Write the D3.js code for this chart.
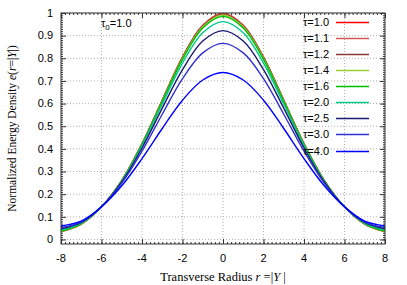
<!DOCTYPE html>
<html>
<head>
<meta charset="utf-8">
<script src="https://cdn.jsdelivr.net/npm/d3@7"></script>
<style>
body { margin: 0; background: #fff; }
text { font-family: "Liberation Sans", Arial, sans-serif; }
.serif { font-family: "Liberation Serif", "Times New Roman", serif; }
</style>
</head>
<body>
<div id="chart"></div>
<script>
// transverse radius samples
var radius = [-8, -7, -6, -5, -4, -3, -2, -1, 0, 1, 2, 3, 4, 5, 6, 7, 8];

var tauLabels = ["1.0", "1.1", "1.2", "1.4", "1.6", "2.0", "2.5", "3.0", "4.0"];
var tauColors = ["#ff0000", "#d05858", "#8b3a3a", "#9acd32", "#00c000", "#00c78c", "#191970", "#3030d0", "#0000ff"];

// normalized energy density, one row per tau
var tau10 = [0.035, 0.068, 0.144, 0.260, 0.422, 0.615, 0.805, 0.946, 0.998, 0.946, 0.805, 0.615, 0.422, 0.260, 0.144, 0.068, 0.035];
var tau11 = [0.035, 0.068, 0.144, 0.261, 0.423, 0.615, 0.805, 0.945, 0.997, 0.945, 0.805, 0.615, 0.423, 0.261, 0.144, 0.068, 0.035];
var tau12 = [0.036, 0.069, 0.144, 0.260, 0.422, 0.614, 0.803, 0.943, 0.995, 0.943, 0.803, 0.614, 0.422, 0.260, 0.144, 0.069, 0.036];
var tau14 = [0.036, 0.069, 0.144, 0.260, 0.420, 0.612, 0.800, 0.939, 0.991, 0.939, 0.800, 0.612, 0.420, 0.260, 0.144, 0.069, 0.036];
var tau16 = [0.037, 0.070, 0.144, 0.259, 0.419, 0.609, 0.795, 0.934, 0.985, 0.934, 0.795, 0.609, 0.419, 0.259, 0.144, 0.070, 0.037];
var tau20 = [0.042, 0.072, 0.144, 0.257, 0.414, 0.598, 0.779, 0.913, 0.962, 0.913, 0.779, 0.598, 0.414, 0.257, 0.144, 0.072, 0.042];
var tau25 = [0.047, 0.075, 0.144, 0.254, 0.404, 0.580, 0.750, 0.876, 0.922, 0.876, 0.750, 0.580, 0.404, 0.254, 0.144, 0.075, 0.047];
var tau30 = [0.053, 0.077, 0.144, 0.249, 0.390, 0.553, 0.710, 0.824, 0.866, 0.824, 0.710, 0.553, 0.390, 0.249, 0.144, 0.077, 0.053];
var tau40 = [0.060, 0.081, 0.144, 0.237, 0.357, 0.490, 0.615, 0.704, 0.737, 0.704, 0.615, 0.490, 0.357, 0.237, 0.144, 0.081, 0.060];

var series = [tau10, tau11, tau12, tau14, tau16, tau20, tau25, tau30, tau40];

var xTicks = [-8, -6, -4, -2, 0, 2, 4, 6, 8];
var yTicks = [0, 0.1, 0.2, 0.3, 0.4, 0.5, 0.6, 0.7, 0.8, 0.9, 1];

var width = 407, height = 285;
var margin = {top: 13, right: 22, bottom: 41, left: 61};
var x0 = margin.left, x1 = width - margin.right;
var y0 = height - margin.bottom, y1 = margin.top;

var svg = d3.select("#chart").append("svg")
    .attr("width", width)
    .attr("height", height);

var x = d3.scaleLinear().domain([-8, 8]).range([x0, x1]);
var y = d3.scaleLinear().domain([-0.02, 1]).range([y0, y1]);

// grid
svg.append("g").selectAll("line").data(xTicks.slice(1, -1)).enter().append("line")
    .attr("x1", function(d) { return x(d); }).attr("x2", function(d) { return x(d); })
    .attr("y1", y0).attr("y2", y1)
    .attr("stroke", "#b0b0b0").attr("stroke-dasharray", "1,2");
svg.append("g").selectAll("line").data(yTicks).enter().append("line")
    .attr("x1", x0).attr("x2", x1)
    .attr("y1", function(d) { return y(d); }).attr("y2", function(d) { return y(d); })
    .attr("stroke", "#b0b0b0").attr("stroke-dasharray", "1,2");

// axes, mirrored on top and right like gnuplot
var xMinor = d3.range(-8, 8.001, 0.2);
var yMinor = d3.range(0, 1.0001, 0.01);

svg.append("g").attr("transform", "translate(0," + y0 + ")")
    .call(d3.axisTop(x).tickValues(xMinor).tickSize(2).tickFormat(""));
svg.append("g").attr("transform", "translate(0," + y0 + ")")
    .call(d3.axisTop(x).tickValues(xTicks).tickSize(5).tickFormat(""));
svg.append("g").attr("transform", "translate(0," + y1 + ")")
    .call(d3.axisBottom(x).tickValues(xMinor).tickSize(2).tickFormat(""));
svg.append("g").attr("transform", "translate(0," + y1 + ")")
    .call(d3.axisBottom(x).tickValues(xTicks).tickSize(5).tickFormat(""));
svg.append("g").attr("transform", "translate(" + x0 + ",0)")
    .call(d3.axisRight(y).tickValues(yMinor).tickSize(2).tickFormat(""));
svg.append("g").attr("transform", "translate(" + x0 + ",0)")
    .call(d3.axisRight(y).tickValues(yTicks).tickSize(5).tickFormat(""));
svg.append("g").attr("transform", "translate(" + x1 + ",0)")
    .call(d3.axisLeft(y).tickValues(yMinor).tickSize(2).tickFormat(""));
svg.append("g").attr("transform", "translate(" + x1 + ",0)")
    .call(d3.axisLeft(y).tickValues(yTicks).tickSize(5).tickFormat(""));
svg.selectAll(".domain").remove();
svg.selectAll(".tick line").attr("stroke", "#333");

// tick labels
svg.append("g").selectAll("text").data(xTicks).enter().append("text")
    .attr("x", function(d) { return x(d); })
    .attr("y", y0 + 18)
    .attr("text-anchor", "middle")
    .attr("font-size", 11)
    .text(function(d) { return d; });
svg.append("g").selectAll("text").data(yTicks).enter().append("text")
    .attr("x", x0 - 8)
    .attr("y", function(d) { return y(d); })
    .attr("dy", "0.35em")
    .attr("text-anchor", "end")
    .attr("font-size", 11)
    .text(function(d) { return d3.format("~g")(d); });

// curves
var line = d3.line()
    .x(function(d, i) { return x(radius[i]); })
    .y(function(d) { return y(d); })
    .curve(d3.curveCatmullRom);

svg.append("g").selectAll("path").data(series).enter().append("path")
    .attr("d", line)
    .attr("fill", "none")
    .attr("stroke", function(d, i) { return tauColors[i]; })
    .attr("stroke-width", 1.4);

// border
svg.append("rect")
    .attr("x", x0).attr("y", y1)
    .attr("width", x1 - x0).attr("height", y0 - y1)
    .attr("fill", "none").attr("stroke", "#333");

// legend
var legend = svg.append("g").selectAll("g").data(tauLabels).enter().append("g")
    .attr("transform", function(d, i) { return "translate(0," + (Math.round(21.7 + i * 16.1) + 0.5) + ")"; });
legend.append("text")
    .attr("x", 329).attr("dy", "0.35em")
    .attr("text-anchor", "end")
    .attr("font-size", 11)
    .text(function(d) { return "\u03c4=" + d; });
legend.append("line")
    .attr("x1", 336).attr("x2", 369)
    .attr("stroke", function(d, i) { return tauColors[i]; })
    .attr("stroke-width", 1.5);

// tau0 note
var note = svg.append("text").attr("x", 101).attr("y", 27).attr("font-size", 11);
note.append("tspan").text("\u03c4");
note.append("tspan").attr("font-size", 8).attr("dy", 3).text("0");
note.append("tspan").attr("dy", -3).text("=1.0");

// axis labels
var xl = svg.append("text").attr("class", "serif")
    .attr("x", 223).attr("y", 281)
    .attr("text-anchor", "middle").attr("font-size", 12.5);
xl.append("tspan").text("Transverse Radius ");
xl.append("tspan").attr("font-style", "italic").text("r");
xl.append("tspan").text(" =|");
xl.append("tspan").attr("font-style", "italic").text("Y");
xl.append("tspan").text(" |");

var yl = svg.append("text").attr("class", "serif")
    .attr("transform", "translate(16," + ((y0 + y1) / 2) + ") rotate(-90)")
    .attr("text-anchor", "middle").attr("font-size", 11.5);
yl.append("tspan").text("Normalized Energy Density ");
yl.append("tspan").attr("font-style", "italic").text("e");
yl.append("tspan").text("(");
yl.append("tspan").attr("font-style", "italic").text("r");
yl.append("tspan").text("=|");
yl.append("tspan").attr("font-style", "italic").text("Y");
yl.append("tspan").text("|)");
</script>
</body>
</html>
